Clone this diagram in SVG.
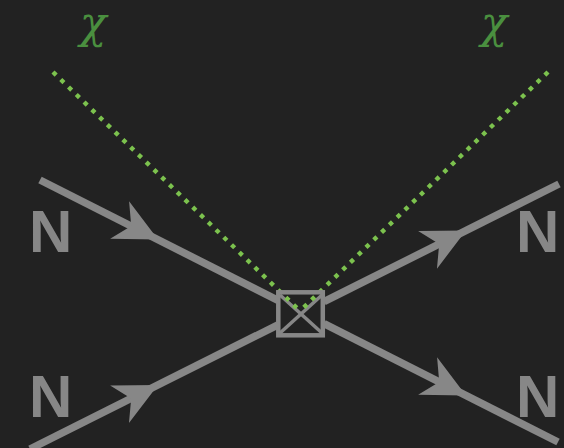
<svg xmlns="http://www.w3.org/2000/svg" width="564" height="448" viewBox="0 0 564 448">
  <style>
    .line { stroke: #878787; stroke-width: 7.5; fill: none; }
    .inner { stroke: #878787; stroke-width: 3.5; fill: none; }
    .box { stroke: #878787; stroke-width: 4.5; fill: none; }
    .dm { stroke: #7cc24e; stroke-width: 4.4; stroke-dasharray: 4.4 6.4; fill: none; }
    .arrow { fill: #878787; }
    .n { font-family: "Liberation Sans", Arial, sans-serif; font-weight: bold; font-size: 60px; fill: #878787; }
    .chi { font-family: "DejaVu Serif", serif; font-style: italic; font-size: 44px; fill: #4a8f3f; text-anchor: middle; }
  </style>
  <defs>
    <path id="ah" d="M0,0 L-43,-21 L-30,0 L-43,21 Z"/>
  </defs>
  <rect width="564" height="448" fill="#222222"/>
  <g id="connectors">
    <line class="line" x1="40" y1="180" x2="278" y2="300.4"/>
    <line class="line" x1="324" y1="323.7" x2="558" y2="442"/>
    <line class="line" x1="30" y1="449" x2="278" y2="324.8"/>
    <line class="line" x1="324" y1="301.7" x2="559" y2="184"/>
    <line class="inner" x1="280" y1="295" x2="322" y2="333"/>
    <line class="inner" x1="280" y1="333" x2="322" y2="295"/>
    <use href="#ah" class="arrow" transform="translate(158,239.5) rotate(26.8)"/>
    <use href="#ah" class="arrow" transform="translate(466,395.5) rotate(26.8)"/>
    <use href="#ah" class="arrow" transform="translate(158,385) rotate(-26.6)"/>
    <use href="#ah" class="arrow" transform="translate(466,230.6) rotate(-26.6)"/>
    <line class="dm" x1="53" y1="72" x2="300" y2="311"/>
    <line class="dm" x1="548" y1="72" x2="300" y2="311"/>
  </g>
  <g id="vertex">
    <rect class="box" x="278.3" y="292.3" width="44.5" height="43"/>
  </g>
  <g id="N-in-top"><text class="n" x="29" y="252">N</text></g>
  <g id="N-in-bottom"><text class="n" x="29" y="417">N</text></g>
  <g id="N-out-top"><text class="n" x="516" y="252">N</text></g>
  <g id="N-out-bottom"><text class="n" x="516" y="417">N</text></g>
  <g id="chi-left"><text class="chi" x="93" y="38">χ</text></g>
  <g id="chi-right"><text class="chi" x="494" y="38">χ</text></g>
</svg>
